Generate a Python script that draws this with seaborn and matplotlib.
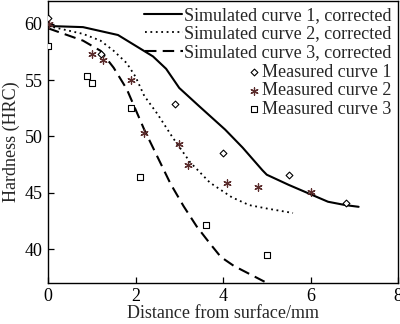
import matplotlib
matplotlib.use("Agg")
import matplotlib.pyplot as plt
import seaborn as sns
import pandas as pd

# Simulated curves
sim1_x = [0, 0.8, 1.6, 2.4, 2.7, 3.0, 3.45, 4.05, 4.45, 4.9, 5.0, 5.5, 5.8, 6.4, 6.8, 7.1]
sim1_y = [59.8, 59.7, 59.0, 57.1, 56.0, 54.3, 52.7, 50.6, 49.0, 47.0, 46.6, 45.7, 45.2, 44.2, 43.9, 43.75]
sim2_x = [0, 0.8, 1.2, 1.5, 1.8, 2.0, 2.2, 2.5, 2.85, 3.25, 3.7, 4.2, 4.6, 5.0, 5.6]
sim2_y = [59.8, 59.1, 58.5, 57.6, 56.5, 55.3, 53.6, 52.0, 49.9, 47.7, 45.9, 44.6, 43.9, 43.6, 43.2]
sim3_x = [0, 0.8, 1.2, 1.5, 1.8, 2.0, 2.2, 2.5, 2.8, 3.1, 3.4, 3.7, 3.95, 4.25, 4.6, 4.95]
sim3_y = [59.6, 58.5, 57.6, 56.1, 54.2, 52.4, 50.6, 48.2, 45.8, 43.8, 42.0, 40.5, 39.3, 38.5, 37.8, 37.1]

# Measured points
meas1_x = [0, 1.2, 2.9, 4.0, 5.5, 6.8]
meas1_y = [60.5, 57.3, 52.9, 48.5, 46.6, 44.1]
meas2_x = [0.03, 1.0, 1.25, 1.9, 2.2, 3.0, 3.2, 4.1, 4.8, 6.0]
meas2_y = [60.0, 57.3, 56.8, 55.0, 50.3, 49.3, 47.5, 45.9, 45.5, 45.1]
meas3_x = [0, 0.9, 1.0, 1.9, 2.1, 3.6, 5.0]
meas3_y = [58.0, 55.4, 54.7, 52.5, 46.4, 42.1, 39.5]

labels_sim = ["Simulated curve 1, corrected", "Simulated curve 2, corrected", "Simulated curve 3, corrected"]
labels_meas = ["Measured curve 1", "Measured curve 2", "Measured curve 3"]

sns.set_style("ticks")
plt.rcParams["font.family"] = ["Liberation Serif", "DejaVu Serif"]

fig = plt.figure(figsize=(4.0, 3.24), dpi=100)
ax = fig.add_axes([0.12, 0.127, 0.875, 0.871])

star_color = "#5a2c2c"
FS = 13

sns.lineplot(x=sim1_x, y=sim1_y, ax=ax, sort=False, color="black", lw=1.5, label=labels_sim[0])
sns.lineplot(x=sim2_x, y=sim2_y, ax=ax, sort=False, color="black", lw=1.3, label=labels_sim[1])
ax.lines[-1].set_linestyle((0, (1, 2)))
sns.lineplot(x=sim3_x, y=sim3_y, ax=ax, sort=False, color="black", lw=1.5, label=labels_sim[2])
ax.lines[-1].set_linestyle((0, (5.5, 3)))

ax.scatter(meas1_x, meas1_y, marker="D", s=12, facecolors="white", edgecolors="black", linewidths=0.8, label=labels_meas[0], zorder=3)
ax.scatter(meas2_x, meas2_y, marker=(6, 2, 0), s=28, color=star_color, linewidths=0.9, label=labels_meas[1], zorder=3)
ax.scatter(meas3_x, meas3_y, marker="s", s=22, facecolors="white", edgecolors="black", linewidths=0.8, label=labels_meas[2], zorder=3)

ax.set_xlim(0, 8)
ax.set_ylim(37, 62.05)
ax.set_xticks([0, 2, 4, 6, 8])
ax.set_yticks([40, 45, 50, 55, 60])
ax.tick_params(direction="in", length=4, width=0.9, labelsize=FS, colors="black", pad=4)
ax.set_xlabel("Distance from surface/mm", fontsize=FS, labelpad=0)
ax.set_ylabel("Hardness (HRC)", fontsize=FS, labelpad=3)
for s in ax.spines.values():
    s.set_linewidth(1.0)
    s.set_color("black")

handles, labels = ax.get_legend_handles_labels()
leg1 = ax.legend(handles[:3], labels[:3], loc="upper right", bbox_to_anchor=(1.0, 1.0),
                 frameon=False, fontsize=FS, handlelength=2.1, handletextpad=0.1,
                 labelspacing=0.08, borderaxespad=0.25, borderpad=0.1)
for col in leg1._legend_handle_box.get_children():
    col.align = "right"
ax.add_artist(leg1)
leg2 = ax.legend(handles[3:], labels[3:], loc="upper right", bbox_to_anchor=(1.0, 0.798),
                 frameon=False, fontsize=FS, handlelength=0.6, handletextpad=0.15,
                 labelspacing=0.08, borderaxespad=0.25, borderpad=0.1)
for col in leg2._legend_handle_box.get_children():
    col.align = "right"

fig.savefig("out.png", dpi=100)
